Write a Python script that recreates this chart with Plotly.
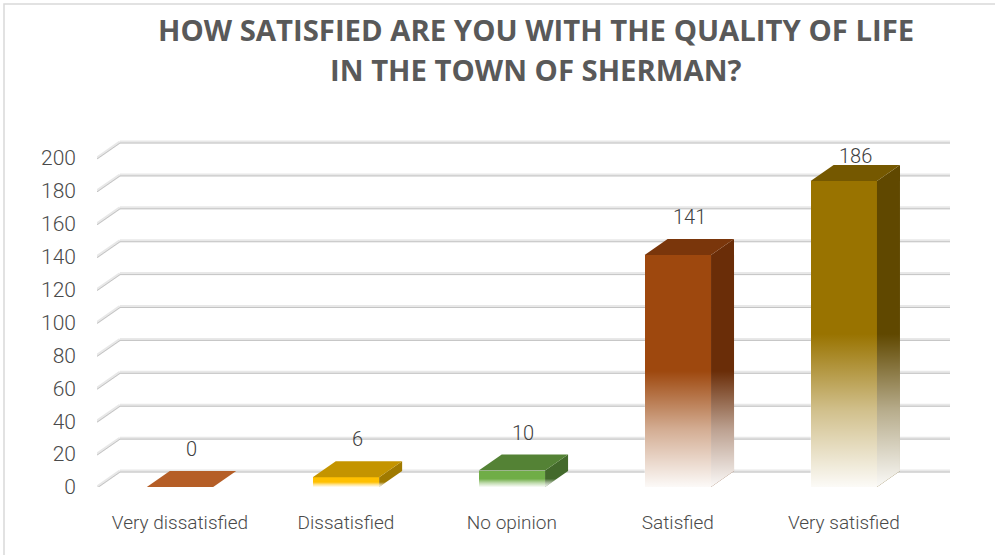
import plotly.graph_objects as go

# ---- data ----
CATEGORIES = ["Very dissatisfied", "Dissatisfied", "No opinion", "Satisfied", "Very satisfied"]
VALUES = [0, 6, 10, 141, 186]
Y_TICKS = [0, 20, 40, 60, 80, 100, 120, 140, 160, 180, 200]
TITLE_LINES = ["HOW SATISFIED ARE YOU WITH THE QUALITY OF LIFE", "IN THE TOWN OF SHERMAN?"]

# ---- style ----
FRONT = ["#B55E27", "#FFC000", "#70AD47", "#9E480E", "#997300"]
TOP = ["#B55E27", "#C49400", "#548235", "#7A360B", "#755800"]
SIDE = ["#8A4519", "#A07A00", "#43692B", "#6A2D08", "#604800"]
BAR_W = 0.4
DX = 0.1386      # depth offset in category units
DY = 9.7         # depth offset in value units
X_RANGE = [-0.5, 4.64]
Y_RANGE = [0, 217]
FADE = 0.5
W, H = 995, 555
ML, MR, MT, MB = 97, 45, 130, 68
PW, PH = W - ML - MR, H - MT - MB
FONT_NARROW = "Roboto, Liberation Sans Narrow, sans-serif"

fig = go.Figure()
xs = list(range(len(CATEGORIES)))

# front faces
fig.add_trace(go.Bar(x=xs, y=VALUES, width=BAR_W, marker=dict(color=FRONT, line=dict(width=0)),
                     hoverinfo="skip", showlegend=False))

for i, v in enumerate(VALUES):
    x0, x1 = i - BAR_W / 2, i + BAR_W / 2
    if v > 0:
        # side face
        fig.add_trace(go.Scatter(x=[x1, x1 + DX, x1 + DX, x1, x1], y=[0, DY, v + DY, v, 0],
                                 fill="toself", fillcolor=SIDE[i], mode="lines", line=dict(width=0),
                                 hoverinfo="skip", showlegend=False))
    # top face
    fig.add_trace(go.Scatter(x=[x0, x1, x1 + DX, x0 + DX, x0], y=[v, v, v + DY, v + DY, v],
                             fill="toself", fillcolor=TOP[i], mode="lines", line=dict(width=0),
                             hoverinfo="skip", showlegend=False))
    if v > 0:
        hf = v * FADE
        fig.add_trace(go.Scatter(
            x=[x0, x1, x1 + DX, x1 + DX, x1, x0, x0], y=[0, 0, DY, hf + DY, hf, hf, 0],
            fill="toself", mode="lines", line=dict(width=0),
            fillgradient=dict(type="vertical", start=0, stop=hf,
                              colorscale=[[0, "rgba(255,255,255,0.97)"], [0.5, "rgba(255,255,255,0.55)"],
                                          [1, "rgba(255,255,255,0)"]]),
            hoverinfo="skip", showlegend=False))

# gridlines (back wall + side diagonal)
shapes = []
for t in Y_TICKS:
    for col, wid, off in [("#e8e8e8", 3, 0), ("#c4c4c4", 1, 1.0)]:
        shapes.append(dict(type="line", xref="x", yref="y", x0=X_RANGE[0], y0=t - off * 0.6,
                           x1=X_RANGE[0] + DX, y1=t + DY - off * 0.6, line=dict(color=col, width=wid), layer="below"))
        shapes.append(dict(type="line", xref="x", yref="y", x0=X_RANGE[0] + DX, y0=t + DY - off * 0.6,
                           x1=X_RANGE[1], y1=t + DY - off * 0.6, line=dict(color=col, width=wid), layer="below"))

# chart border
shapes.append(dict(type="rect", xref="paper", yref="paper",
                   x0=(4 - ML) / PW, x1=(W + 10 - ML) / PW,
                   y0=-(MB + 10) / PH, y1=1 + (MT - 4) / PH,
                   line=dict(color="#d9d9d9", width=1.5), fillcolor="rgba(0,0,0,0)", layer="below"))

annotations = []
# data labels
for i, v in enumerate(VALUES):
    annotations.append(dict(x=i + DX / 2, y=min(v + DY + 13.4, 201), xref="x", yref="y", text=str(v),
                            showarrow=False, yanchor="middle", xanchor="center",
                            font=dict(family=FONT_NARROW, size=20, color="#404040", weight=300)))
# title
for k, line in enumerate(TITLE_LINES):
    annotations.append(dict(x=(536 - ML) / PW, y=1 + (MT - (30 + 40 * k)) / PH, xref="paper", yref="paper",
                            text=line, showarrow=False, xanchor="center", yanchor="middle",
                            font=dict(family="Open Sans", size=29.3, color="#595959", weight="bold")))

fig.update_layout(
    width=W, height=H, margin=dict(l=ML, r=MR, t=MT, b=MB, autoexpand=False),
    paper_bgcolor="white", plot_bgcolor="white",
    shapes=shapes, annotations=annotations, bargap=0,
    xaxis=dict(range=X_RANGE, tickvals=xs, ticktext=CATEGORIES, showgrid=False, zeroline=False,
               showline=False, ticks="", ticklabelstandoff=22,
               tickfont=dict(family=FONT_NARROW, size=19, color="#4a4a4a", weight=300)),
    yaxis=dict(range=Y_RANGE, tickvals=Y_TICKS, showgrid=False, zeroline=False, showline=False,
               ticks="", ticklabelstandoff=20,
               tickfont=dict(family=FONT_NARROW, size=21, color="#4a4a4a", weight=300)),
)

fig.write_html("out.html", config={"displayModeBar": False},
               post_script="document.body.style.margin='0';")
